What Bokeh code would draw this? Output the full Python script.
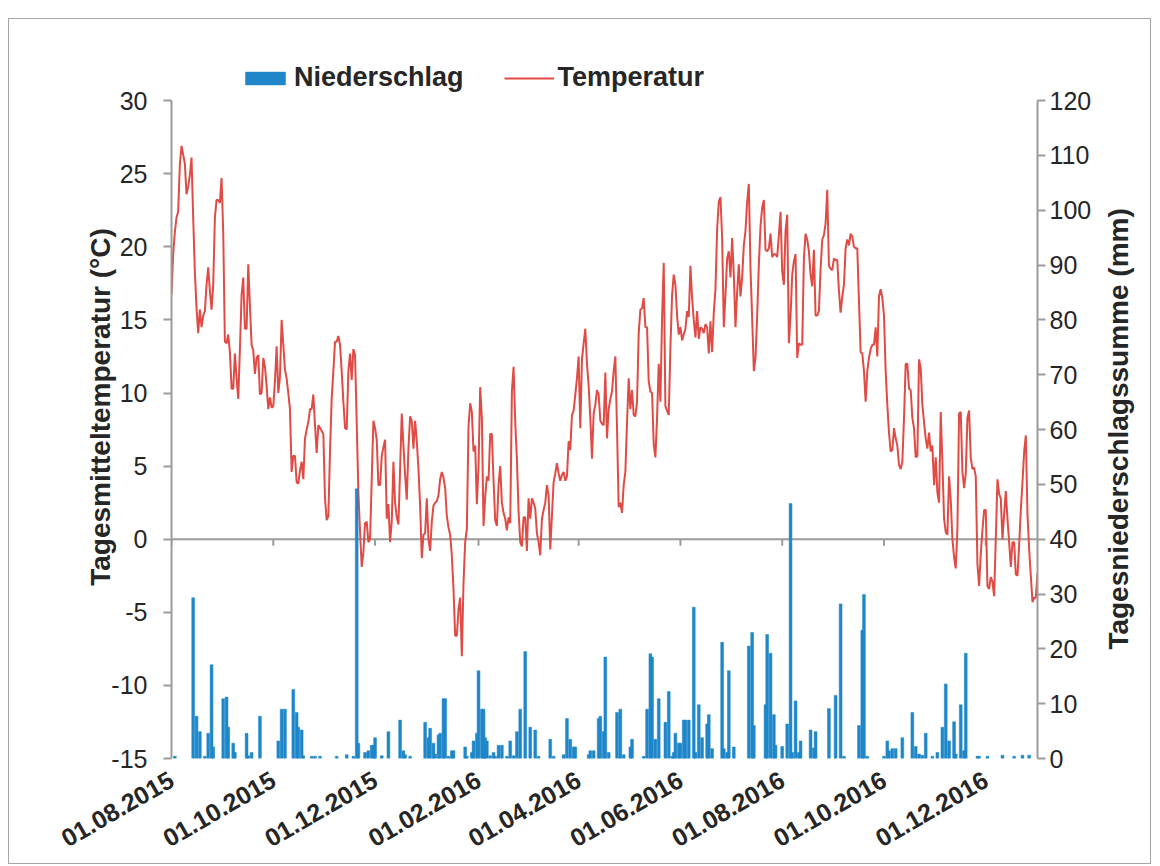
import math
from datetime import datetime
import pandas as pd
from bokeh.plotting import figure
from bokeh.models import (Range1d, LinearAxis, FixedTicker, Span, Legend, LegendItem)
from bokeh.embed import file_html
from bokeh.resources import INLINE

# ---------------- data ----------------
start_date = "2015-08-01"
end_date = "2017-01-01"

# daily mean temperature (°C), one value per day from 01.08.2015
temperature = [
    16.7, 19.5, 21.0, 22.0, 22.4, 25.6, 26.9, 26.3, 25.7, 23.6,
    24.1, 24.9, 26.1, 22.0, 18.3, 15.8, 14.1, 15.7, 14.5, 15.3,
    15.6, 17.4, 18.6, 17.0, 15.7, 17.4, 22.0, 23.2, 23.2, 23.0,
    24.7, 21.0, 13.5, 13.4, 14.0, 12.8, 10.3, 10.3, 12.7, 11.0,
    9.6, 13.0, 16.7, 17.9, 14.4, 14.4, 18.8, 16.0, 13.3, 12.9,
    11.3, 12.4, 12.6, 9.9, 10.0, 12.4, 11.8, 10.5, 8.9, 9.7,
    9.0, 9.1, 10.8, 13.2, 10.0, 11.1, 15.0, 13.3, 11.6, 11.0,
    10.0, 8.9, 4.6, 5.7, 5.7, 3.9, 3.8, 4.7, 5.3, 4.1,
    6.9, 7.5, 8.0, 8.9, 8.9, 9.9, 7.8, 5.9, 7.8, 7.6,
    7.4, 7.2, 2.8, 1.3, 1.6, 6.0, 9.6, 11.5, 13.5, 13.5,
    13.9, 13.3, 11.5, 9.4, 7.6, 7.5, 11.5, 12.7, 10.9, 13.0,
    12.6, 8.0, 3.2, 0.5, -1.9, -0.9, 1.1, 1.2, -0.2, 0.0,
    4.1, 8.1, 7.6, 6.8, 3.7, 3.7, 5.7, 6.3, 6.8, 1.4,
    2.4, -0.2, 1.2, 5.3, 2.5, 1.5, 1.0, 4.8, 8.6, 6.4,
    4.4, 2.7, 6.2, 8.4, 8.1, 6.2, 8.1, 6.7, 4.8, 2.3,
    -1.3, 0.3, 0.4, 2.8, 0.0, -0.8, 1.2, 2.3, 2.5, 2.6,
    3.0, 4.1, 4.6, 4.2, 3.5, 1.6, 0.8, 0.3, -1.1, -3.4,
    -6.6, -6.6, -4.8, -4.0, -8.0, -3.0, -0.2, 0.7, 7.7, 9.3,
    8.7, 6.0, 6.4, 2.4, 5.0, 10.4, 8.3, 0.9, 2.9, 4.3,
    4.0, 7.2, 7.2, 4.0, 1.3, 0.9, 3.7, 5.0, 2.5, 1.8,
    1.4, 0.6, 1.5, 1.1, 10.1, 11.8, 8.0, 5.5, 1.9, -0.2,
    -0.5, 1.5, 1.5, -0.8, 2.8, 1.4, 2.8, 2.5, 2.1, 0.4,
    -0.2, -1.1, 1.4, 2.0, 2.5, 3.7, 3.0, -0.7, 1.6, 3.9,
    4.5, 5.2, 4.5, 4.0, 4.4, 4.6, 4.0, 4.3, 6.7, 6.1,
    8.5, 8.8, 9.9, 11.0, 12.5, 7.6, 12.3, 13.4, 14.4, 12.0,
    10.5, 8.3, 5.5, 8.6, 9.2, 10.2, 9.9, 8.1, 7.9, 7.8,
    11.4, 6.9, 8.9, 9.6, 10.1, 11.5, 12.5, 7.6, 2.2, 2.5,
    1.8, 3.7, 4.6, 8.0, 11.0, 8.9, 10.2, 8.5, 8.4, 9.4,
    14.1, 15.7, 15.8, 16.5, 14.5, 14.5, 10.8, 10.1, 10.0, 6.5,
    5.6, 8.3, 12.0, 9.4, 15.1, 18.9, 9.1, 8.8, 8.5, 13.1,
    16.7, 18.1, 17.4, 15.3, 14.0, 14.5, 13.6, 14.0, 14.4, 15.6,
    15.2, 18.7, 16.5, 15.0, 13.8, 15.6, 13.7, 14.5, 14.4, 14.1,
    14.7, 14.5, 12.7, 14.9, 12.8, 15.5, 17.1, 21.2, 23.1, 23.4,
    20.6, 14.5, 16.7, 19.2, 19.7, 17.9, 20.6, 18.1, 14.5, 16.9,
    18.8, 16.6, 17.9, 20.1, 21.1, 23.1, 24.3, 18.5, 15.1, 11.5,
    12.4, 15.3, 18.8, 21.4, 22.7, 23.2, 19.8, 19.7, 19.9, 20.9,
    19.3, 19.5, 19.5, 19.3, 20.8, 22.4, 18.3, 17.4, 21.1, 22.2,
    13.4, 15.3, 18.1, 19.0, 19.5, 12.4, 13.4, 13.3, 13.3, 19.2,
    20.9, 20.5, 19.7, 18.1, 17.3, 19.8, 15.3, 15.3, 15.6, 18.5,
    20.5, 20.8, 21.6, 23.9, 18.7, 18.5, 18.4, 19.2, 19.1, 19.1,
    17.0, 15.5, 16.6, 17.4, 19.9, 20.5, 20.1, 20.9, 20.7, 20.0,
    19.9, 19.9, 16.3, 12.8, 12.7, 11.5, 9.4, 11.5, 12.4, 13.0,
    13.3, 13.3, 14.5, 12.5, 16.6, 17.1, 16.5, 15.3, 11.5, 9.2,
    7.3, 6.0, 6.1, 7.6, 6.9, 6.4, 5.1, 4.8, 5.3, 8.3,
    12.0, 12.0, 10.3, 10.2, 8.3, 7.6, 5.6, 5.7, 12.3, 11.7,
    9.2, 8.0, 6.9, 6.2, 7.3, 6.0, 6.4, 3.7, 5.6, 3.2,
    2.5, 8.7, 5.3, 1.4, 0.5, 0.3, 4.3, 2.7, 0.0, -1.2,
    -2.0, 0.7, 8.6, 8.7, 4.6, 3.5, 4.5, 8.3, 8.8, 5.6,
    4.8, 4.9, 4.3, -1.7, -3.2, -1.0, 0.6, 2.0, 2.0, -3.2,
    -3.4, -2.6, -2.9, -3.9, 0.0, 4.1, 3.1, 2.8, 0.0, 1.7,
    3.3, 1.4, -0.2, -1.9, -0.2, -0.2, -2.4, -2.5, -0.4, 2.0,
    3.9, 6.0, 7.1, 1.7, -0.7, -2.5, -4.3, -4.0, -4.0, -2.3,
]

# daily precipitation (mm): day offset from 01.08.2015 and amount
precip_day = [
    2, 13, 15, 17, 20, 22, 24, 25, 31, 33, 34, 37, 38, 45, 46, 48, 53, 64, 66, 68,
    73, 75, 76, 78, 79, 84, 86, 89, 99, 105, 109, 111, 112, 116, 118, 120, 121, 122, 126, 130,
    137, 139, 140, 143, 152, 154, 155, 157, 158, 160, 161, 163, 164, 166, 168, 169,
    176, 177, 180, 181, 183, 184, 186, 187, 188, 189, 191, 193, 194, 196, 198, 201, 203, 205,
    207, 209, 212, 215, 218, 220, 227, 229, 235, 237, 239, 241, 242, 250, 251, 253, 256, 257,
    259, 260, 262, 267, 269, 271, 275, 276, 283, 285, 287, 288, 290, 292, 296, 298, 300, 301,
    302, 304, 305, 307, 308, 310, 313, 314, 316, 318, 321, 322, 324, 330, 331, 333, 334, 337,
    346, 348, 349, 356, 357, 359, 361, 362, 366, 369, 371, 372, 374, 376, 377, 383, 385, 386,
    394, 398, 401, 403, 412, 414, 415, 417, 427, 429, 430, 432, 434, 438, 444, 446, 448, 450,
    452, 456, 459, 462, 464, 466, 469, 470, 473, 475, 476, 483, 484, 489, 498, 505, 510, 514,
]
precip_mm = [
    0.4, 29.3, 7.7, 4.9, 0.4, 4.6, 17.1, 2.1, 10.9, 11.2, 5.7, 2.8, 1.1, 4.6, 0.5, 1.1, 7.7, 3.2, 9.0, 9.0,
    12.6, 8.4, 5.7, 5.2, 0.5, 0.4, 0.4, 0.4, 0.4, 0.7, 0.4, 49.2, 2.8, 1.1, 1.4, 2.4, 2.4, 3.8, 0.5, 4.9,
    7.0, 1.4, 0.7, 0.4, 6.6, 3.8, 5.5, 2.8, 0.8, 4.3, 4.6, 10.9, 10.9, 0.4, 1.4, 1.4,
    2.1, 0.4, 1.1, 3.2, 4.6, 16.0, 9.0, 9.0, 3.8, 3.2, 0.5, 1.1, 0.4, 2.4, 2.4, 0.4, 3.2, 0.5,
    4.9, 9.0, 19.5, 5.7, 5.2, 0.4, 3.5, 0.4, 0.7, 7.3, 3.5, 2.1, 2.1, 0.7, 1.4, 1.4, 7.3, 7.7,
    4.9, 18.5, 1.1, 8.4, 9.0, 0.7, 2.1, 3.5, 0.4, 9.0, 19.1, 18.5, 3.5, 10.9, 6.6, 12.2, 0.4, 1.1,
    4.6, 2.8, 2.8, 7.0, 7.0, 7.0, 27.6, 1.1, 9.8, 3.8, 6.3, 8.0, 1.8, 21.2, 1.8, 1.1, 16.0, 2.1,
    20.5, 23.0, 6.0, 9.8, 22.6, 19.2, 8.0, 2.4, 2.2, 6.3, 46.5, 1.1, 10.5, 1.1, 3.2, 5.2, 1.9, 4.9,
    9.1, 11.5, 28.2, 0.4, 6.0, 23.4, 29.9, 0.4, 0.4, 3.2, 1.4, 1.8, 1.8, 3.8, 8.4, 2.2, 0.8, 0.6,
    4.6, 0.4, 1.1, 5.7, 13.6, 3.2, 6.7, 0.8, 9.8, 1.4, 19.2, 0.4, 0.4, 0.4, 0.6, 0.4, 0.6, 0.6,
]

x_tick_labels = ["01.08.2015", "01.10.2015", "01.12.2015", "01.02.2016", "01.04.2016",
                 "01.06.2016", "01.08.2016", "01.10.2016", "01.12.2016"]
temp_ticks = [-15, -10, -5, 0, 5, 10, 15, 20, 25, 30]
precip_ticks = [0, 10, 20, 30, 40, 50, 60, 70, 80, 90, 100, 110, 120]
temp_lim = (-15, 30)
precip_lim = (0, 120)
temp_title = "Tagesmitteltemperatur (°C)"
precip_title = "Tagesniederschlagssumme (mm)"

# ---------------- layout constants ----------------
DAY_MS = 86400000
AXIS_PX = 656      # pixel height between the axis ends
HEAD_PX = 45       # extra frame room above the axes for the legend
temp_top = temp_lim[1] + (temp_lim[1] - temp_lim[0]) * HEAD_PX / AXIS_PX
precip_top = precip_lim[1] + (precip_lim[1] - precip_lim[0]) * HEAD_PX / AXIS_PX
NBSP = "\u00a0"

# ---------------- derived ----------------
t0 = pd.Timestamp(start_date)
dates = pd.date_range(start_date, periods=len(temperature), freq="D")
p_dates = [t0 + pd.Timedelta(days=d) for d in precip_day]
tick_dt = [datetime.strptime(s, "%d.%m.%Y") for s in x_tick_labels]
tick_ms = [(d - datetime(1970, 1, 1)).total_seconds() * 1000.0 for d in tick_dt]

FONT = "Liberation Sans"
TXT = "#262626"
AX = "#9b9b9b"
BLUE = "#1f87c9"
RED = "#e04b45"

p = figure(width=1143, height=846, x_axis_type="datetime",
           x_range=Range1d(pd.Timestamp(start_date), pd.Timestamp(end_date)),
           y_range=Range1d(temp_lim[0], temp_top),
           output_backend="svg", toolbar_location=None,
           min_border_left=162, min_border_right=113,
           min_border_top=36, min_border_bottom=107)
p.styles = {"margin-top": "18px", "margin-left": "8px", "border": "1px solid #a6a6a6"}
p.outline_line_color = None
p.xgrid.visible = False
p.ygrid.visible = False
p.background_fill_color = "white"
p.border_fill_color = "white"

p.extra_y_ranges = {"precip": Range1d(precip_lim[0], precip_top)}

# zero line with hanging ticks
p.add_layout(Span(location=0, dimension="width", line_color=AX, line_width=2, level="underlay"))
p.segment(x0=tick_dt, y0=0, x1=tick_dt, y1=-0.45, line_color=AX, line_width=2, level="underlay")

line = p.line(dates, temperature, line_color=RED, line_width=2)
bars = p.vbar(x=p_dates, top=precip_mm, bottom=0, width=1.7 * DAY_MS,
              y_range_name="precip", fill_color=BLUE, line_color=BLUE, line_width=0.5)

# x axis (labels only)
xa = p.xaxis[0]
xa.ticker = FixedTicker(ticks=tick_ms)
xa.major_label_overrides = {t: lab for t, lab in zip(tick_ms, x_tick_labels)}
xa.axis_line_color = None
xa.major_tick_line_color = None
xa.major_tick_in = 0
xa.major_tick_out = 0
xa.minor_tick_line_color = None
xa.minor_tick_out = 0
xa.major_label_orientation = math.pi / 6
xa.major_label_text_font = FONT
xa.major_label_text_font_size = "25px"
xa.major_label_text_font_style = "bold"
xa.major_label_text_color = TXT
xa.major_label_standoff = 19

# left axis
ya = p.yaxis[0]
ya.ticker = FixedTicker(ticks=temp_ticks)
ya.major_label_overrides = {t: str(t) for t in temp_ticks}
ya.bounds = temp_lim
ya.axis_label = temp_title

# right axis (title reads bottom-to-top like the left one)
ra = LinearAxis(y_range_name="precip", ticker=FixedTicker(ticks=precip_ticks),
                bounds=precip_lim, axis_label=precip_title)
p.add_layout(ra, "right")

for ax, ls, ts in ((ya, 16, -8), (ra, 4, 24)):
    ax.axis_line_color = AX
    ax.axis_line_width = 2
    ax.major_tick_line_color = AX
    ax.major_tick_line_width = 2
    ax.major_tick_in = 0
    ax.major_tick_out = 8
    ax.minor_tick_line_color = None
    ax.major_label_text_font = FONT
    ax.major_label_text_font_size = "25px"
    ax.major_label_text_color = TXT
    ax.major_label_standoff = ls
    ax.axis_label_text_font = FONT
    ax.axis_label_text_font_size = "28px"
    ax.axis_label_text_font_style = "bold"
    ax.axis_label_text_color = TXT
    ax.axis_label_standoff = ts

props = ra.properties()
if "axis_label_orientation" in props:
    ra.axis_label_orientation = math.pi / 2
    if "axis_label_align" in props:
        ra.axis_label_align = "start"
        ra.axis_label = NBSP * 14 + precip_title

legend = Legend(items=[LegendItem(label="Niederschlag", renderers=[bars]),
                       LegendItem(label="Temperatur", renderers=[line])],
                orientation="horizontal", location=(69, 665),
                glyph_width=50, glyph_height=16, label_standoff=4, spacing=40,
                padding=0, margin=0, border_line_color=None, background_fill_alpha=0,
                label_text_font=FONT, label_text_font_size="27px",
                label_text_font_style="bold", label_text_color=TXT)
p.add_layout(legend)

open("out.html", "w").write(file_html(p, INLINE))
